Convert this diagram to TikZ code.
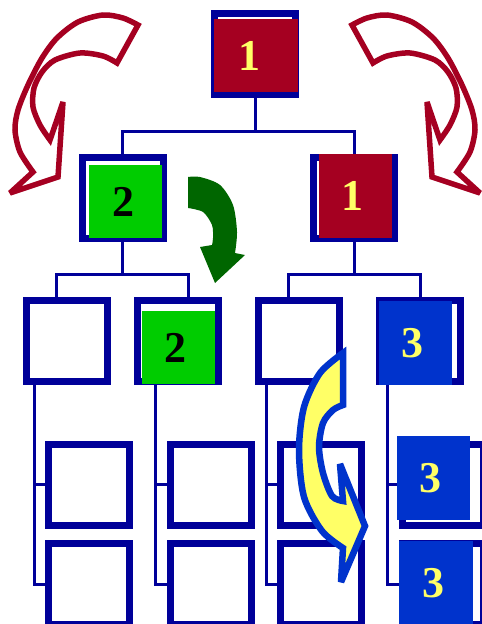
\documentclass[tikz,border=0pt]{standalone}
\usepackage{fontspec}
\usepackage{tikz}
\usetikzlibrary{calc}
\newfontfamily\chiffre{Liberation Serif}
\definecolor{marine}{HTML}{000099}
\definecolor{bordeaux}{HTML}{A50021}
\definecolor{vertC}{HTML}{00CC00}
\definecolor{vertF}{HTML}{006600}
\definecolor{bleuC}{HTML}{0033CC}
\definecolor{jaune}{HTML}{FFFF66}
\tikzset{
  boite/.style={rectangle, draw=marine, line width=7pt, fill=white,
                minimum width=81pt, minimum height=81pt, inner sep=0pt},
  pave/.style={rectangle, fill=#1, inner sep=0pt,
               font=\chiffre\bfseries\fontsize{44}{44}\selectfont},
  lien/.style={draw=marine, line width=3pt},
  fleche/.style={draw=bordeaux, line width=5.5pt, fill=white, line join=miter, miter limit=2.5},
  boucle/.pic={
    \draw[fleche] (138,25) -- plot[smooth] coordinates {(138,25) (123,18) (103,15) (78,22) (57,38)
        (42,58) (28,85) (18,110) (15,130) (20,152) (33,172)}
      -- (10,193) -- (58,177) -- (63,102) -- (50,140)
      -- plot[smooth] coordinates {(50,140) (40,125) (33,107) (34,88) (42,72) (55,60) (80,53)
        (103,56) (117,63)} -- cycle;
  },
}

\begin{document}
\begin{tikzpicture}[x=1pt, y=-1pt]
  \useasboundingbox (0,0) rectangle (482,624);
  \clip (0,0) rectangle (482,624);
  % niveau 1 et 2
  \node[boite] (r) at (255,54) {};
  \node[boite] (ga) at (122.5,197.5) {};
  \node[boite] (gb) at (354,197.5) {};
  % niveau 3
  \node[boite] (ta) at (67,341) {};
  \node[boite] (tb) at (178,341) {};
  \node[boite] (tc) at (299,341) {};
  \node[boite] (td) at (420,341) {};
  % niveau 4
  \node[boite] (qa1) at (89,484.5) {};
  \node[boite] (qb1) at (211,484.5) {};
  \node[boite] (qc1) at (321,484.5) {};
  \node[boite] (qd1) at (443,484.5) {};
  \node[boite] (qa2) at (89,584) {};
  \node[boite] (qb2) at (211,584) {};
  \node[boite] (qc2) at (321,584) {};
  \node[boite] (qd2) at (443,584) {};

  \draw[lien] (r.south) -- ++(0,33) coordinate (j0);
  \draw[lien] (ga.north) |- (j0) -| (gb.north);
  \draw[lien] (ga.south) -- ++(0,33) coordinate (j1);
  \draw[lien] ([xshift=-11pt]ta.north) |- (j1) -| ([xshift=10pt]tb.north);
  \draw[lien] (gb.south) -- ++(0,33) coordinate (j2);
  \draw[lien] ([xshift=-11pt]tc.north) |- (j2) -| (td.north);
  \draw[lien] ([xshift=11pt]ta.south west) |- (qa1.west);
  \draw[lien] ([xshift=11pt]ta.south west) |- (qa2.west);
  \draw[lien] ([xshift=21pt]tb.south west) |- (qb1.west);
  \draw[lien] ([xshift=21pt]tb.south west) |- (qb2.west);
  \draw[lien] ([xshift=11pt]tc.south west) |- (qc1.west);
  \draw[lien] ([xshift=11pt]tc.south west) |- (qc2.west);
  \draw[lien] ([xshift=11pt]td.south west) |- (qd1.west);
  \draw[lien] ([xshift=11pt]td.south west) |- (qd2.west);

  % paves de couleur
  \node[pave=bordeaux, minimum width=84pt, minimum height=73pt, text=jaune] (p1) at (256,55.5) {1\kern14pt};
  \node[pave=vertC, minimum size=73pt] (p2) at (125.5,201.5) {2\kern4pt};
  \node[pave=bordeaux, minimum width=73pt, minimum height=84pt, text=jaune] (p3) at (355.5,196) {1\kern6pt};
  \node[pave=vertC, minimum size=73pt] (p4) at (178.5,347.5) {2\kern6pt};
  \node[pave=bleuC, minimum width=73pt, minimum height=84pt, text=jaune] (p5) at (415.5,343) {3\kern6pt};
  \node[pave=bleuC, minimum width=73pt, minimum height=84pt, text=jaune] (p6) at (433.5,478) {3\kern6pt};
  \node[pave=bleuC, minimum width=74pt, minimum height=84pt, text=jaune] (p7) at (436,583) {3\kern6pt};

  % fleches
  \pic at (0,0) {boucle};
  \pic[xscale=-1] at (490,0) {boucle};
  \fill[vertF] (188,177) -- plot[smooth] coordinates {(188,177) (200,177) (220,185) (233,205)
      (237,232) (235,253)} -- (245,255) -- (215,283) -- (200,247) -- (212,245)
    -- plot[smooth] coordinates {(212,245) (213,238) (212,225) (203,212) (188,208)} -- cycle;
  \draw[draw=bleuC, fill=jaune, line width=6.5pt, line join=miter, miter limit=2.5]
    (343,353) -- plot[smooth] coordinates {(343,353) (320,373) (304,407) (299,450) (304,497)
      (322,531) (343,548)} -- (341,582) -- (365,526) -- (340,464) -- (343,501)
    -- plot[smooth] coordinates {(343,501) (332,496) (323,473) (319,447) (323,423) (333,410)
      (343,405)} -- cycle;
\end{tikzpicture}
\end{document}
